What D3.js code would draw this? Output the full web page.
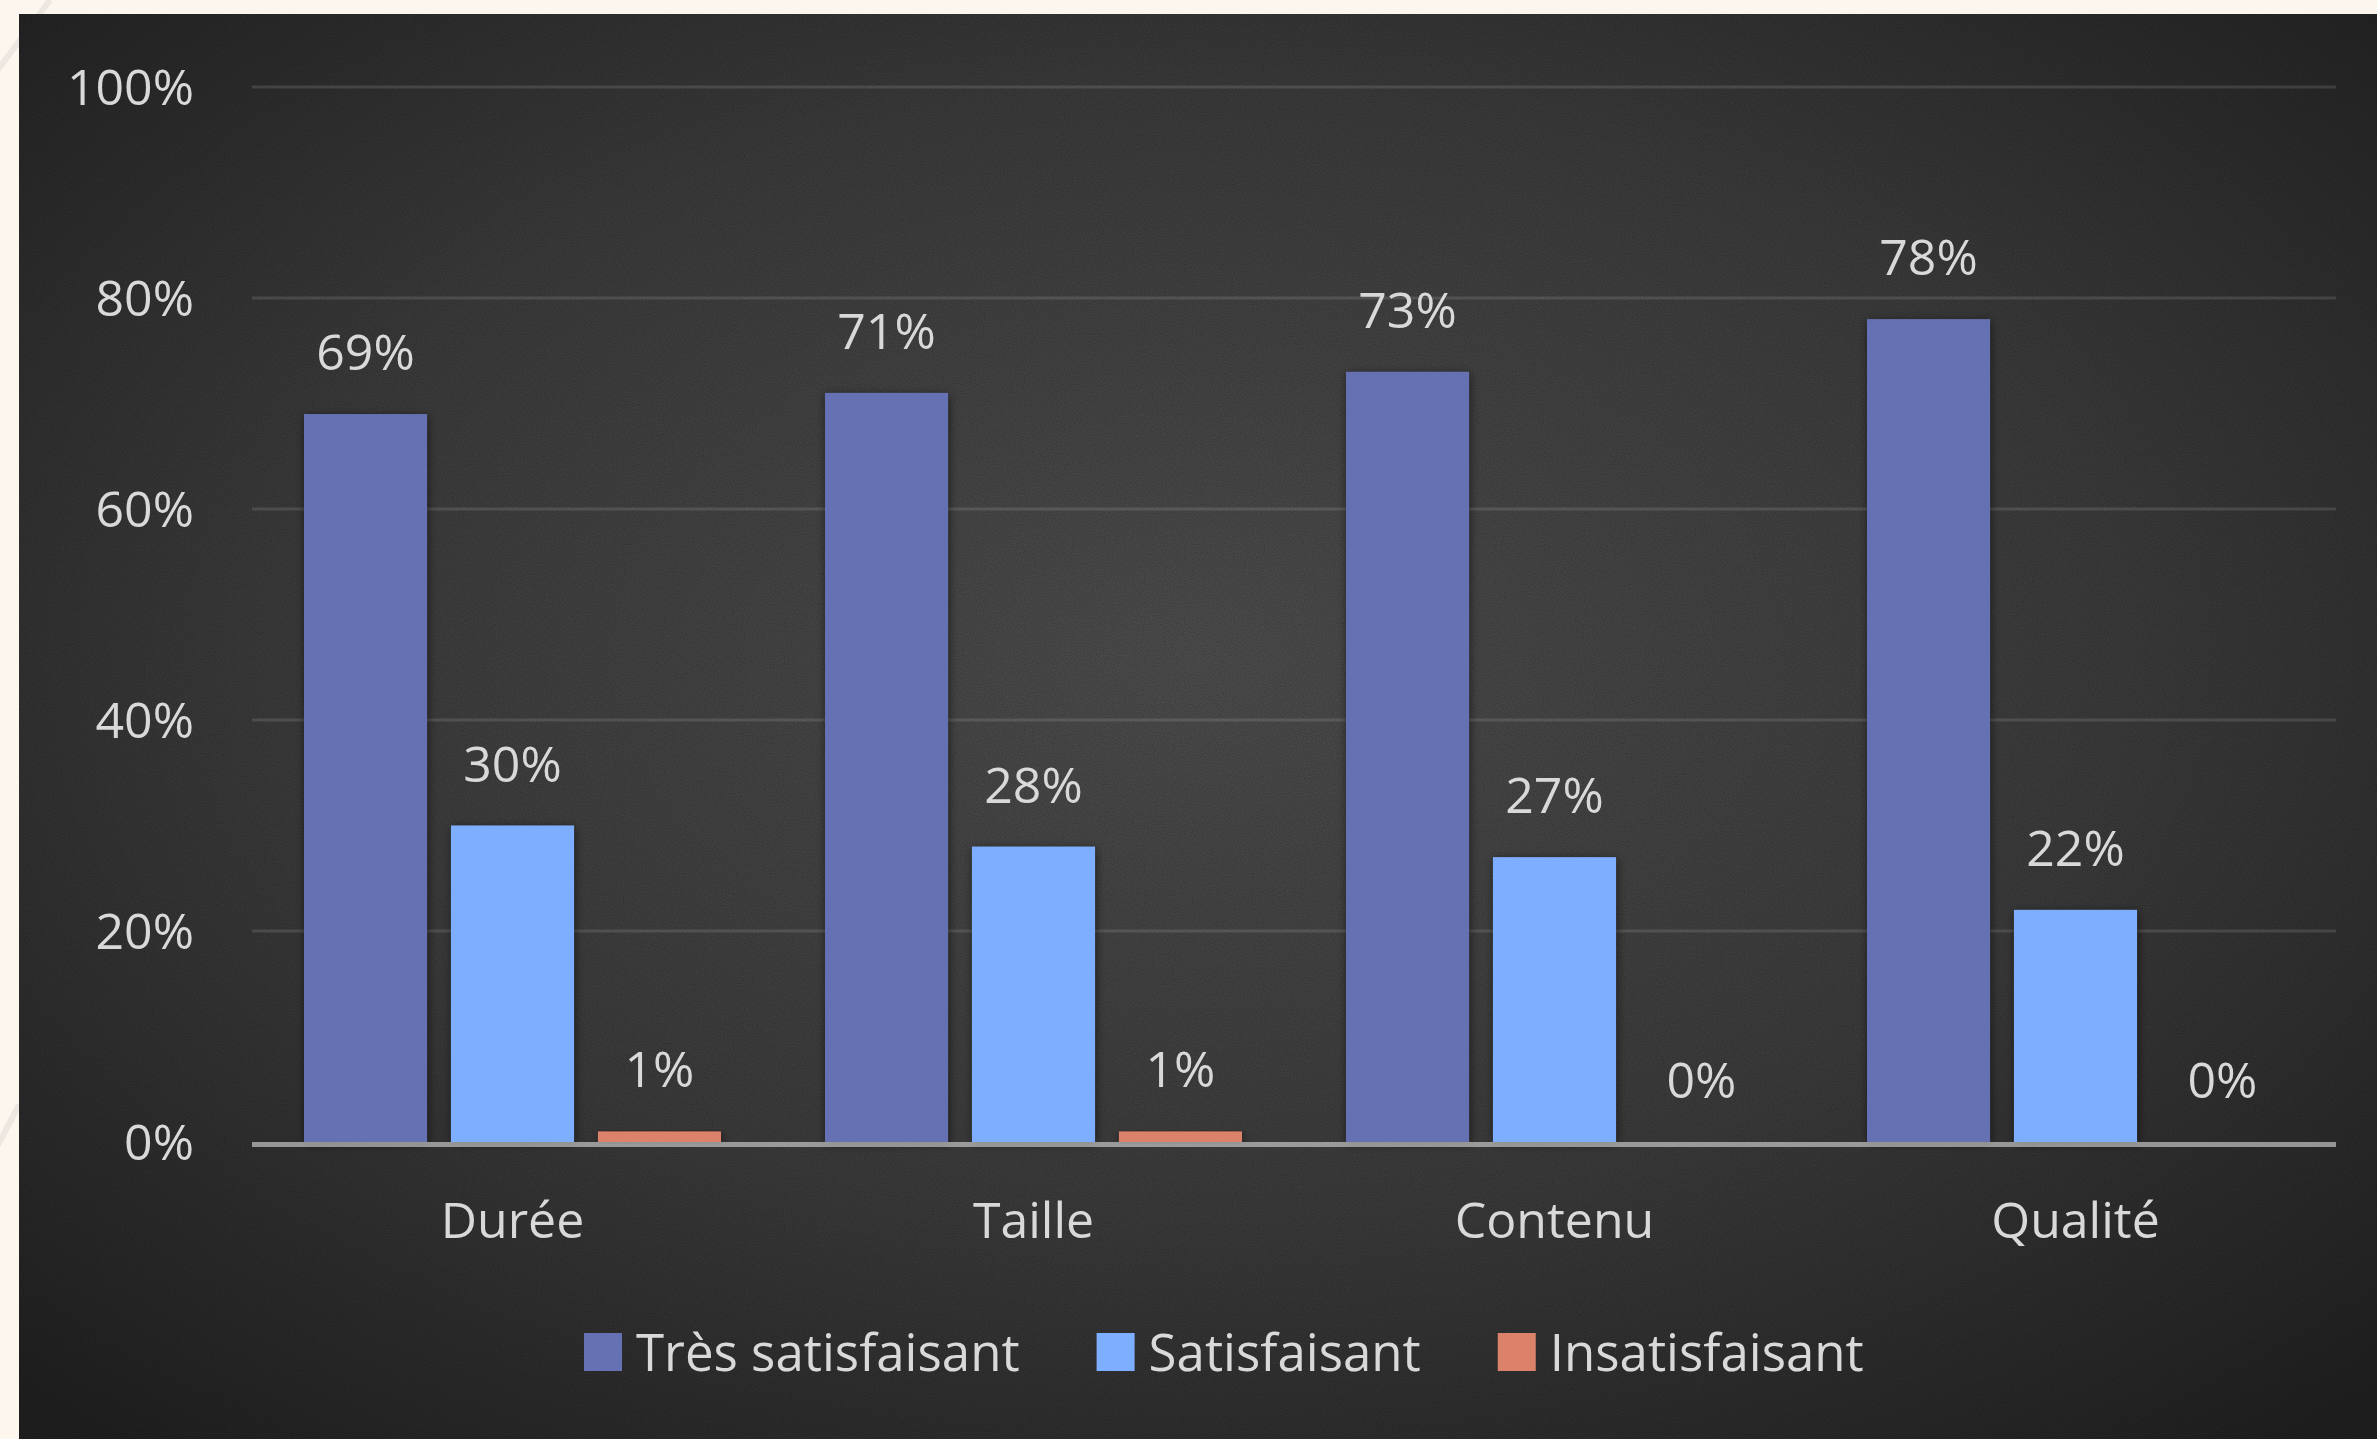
<!DOCTYPE html>
<html>
<head>
<meta charset="utf-8">
<script src="https://cdn.jsdelivr.net/npm/d3@7/dist/d3.min.js"></script>
<style>
  html, body { margin: 0; padding: 0; background: #fdf6ee; }
  svg { display: block; }
  text { font-family: "Open Sans", "Noto Sans", sans-serif; }
</style>
</head>
<body>
<svg id="chart" width="2377" height="1439"></svg>
<script>
// ---- data ----
const categories = ["Durée", "Taille", "Contenu", "Qualité"];
const seriesNames = ["Très satisfaisant", "Satisfaisant", "Insatisfaisant"];
const tresSatisfaisant = [0.69, 0.71, 0.73, 0.78];
const satisfaisant = [0.30, 0.28, 0.27, 0.22];
const insatisfaisant = [0.01, 0.01, 0.00, 0.00];
const yTicks = [0, 0.2, 0.4, 0.6, 0.8, 1.0];
const seriesColors = ["#6571b3", "#7eaeff", "#dc826a"];

const seriesValues = [tresSatisfaisant, satisfaisant, insatisfaisant];

// ---- layout ----
const W = 2377, H = 1439;
const panel = { x: 19, y: 14 };
const plot = { left: 252, right: 2336, top: 87, bottom: 1142 };
const textColor = "#d9d9d9";

const svg = d3.select("#chart");
const defs = svg.append("defs");

// background gradient
const grad = defs.append("radialGradient")
  .attr("id", "bg").attr("cx", "50%").attr("cy", "45%").attr("r", "72%");
grad.append("stop").attr("offset", "0%").attr("stop-color", "#4b4b4b");
grad.append("stop").attr("offset", "55%").attr("stop-color", "#393939");
grad.append("stop").attr("offset", "100%").attr("stop-color", "#1f1f1f");

// grain texture
const noise = defs.append("filter").attr("id", "noise")
  .attr("x", 0).attr("y", 0).attr("width", "100%").attr("height", "100%");
noise.append("feTurbulence").attr("type", "fractalNoise")
  .attr("baseFrequency", 0.9).attr("numOctaves", 1).attr("seed", 3).attr("result", "t");
noise.append("feColorMatrix").attr("type", "matrix")
  .attr("values", "0 0 0 0 0  0 0 0 0 0  0 0 0 0 0  0 0 0 -1.2 0.75");

// bar shadow
const sh = defs.append("filter").attr("id", "shadow")
  .attr("x", "-30%").attr("y", "-10%").attr("width", "160%").attr("height", "120%");
sh.append("feDropShadow").attr("dx", 1).attr("dy", 2).attr("stdDeviation", 5)
  .attr("flood-color", "#000").attr("flood-opacity", 0.55);

// cream background decorations
svg.append("rect").attr("width", W).attr("height", H).attr("fill", "#fdf6ee");
svg.append("line").attr("x1", 50).attr("y1", 0).attr("x2", -10).attr("y2", 80)
  .attr("stroke", "#ece7e1").attr("stroke-width", 6);
svg.append("line").attr("x1", 19).attr("y1", 1105).attr("x2", -10).attr("y2", 1160)
  .attr("stroke", "#ece7e1").attr("stroke-width", 6);

// dark panel
svg.append("rect").attr("x", panel.x).attr("y", panel.y)
  .attr("width", W - panel.x).attr("height", H - panel.y).attr("fill", "url(#bg)");
svg.append("rect").attr("x", panel.x).attr("y", panel.y)
  .attr("width", W - panel.x).attr("height", H - panel.y)
  .attr("filter", "url(#noise)").attr("opacity", 0.35);

// ---- scales ----
const y = d3.scaleLinear().domain([0, 1]).range([plot.bottom, plot.top]);
const x0 = d3.scaleBand().domain(categories).range([plot.left, plot.right]).padding(0);
const x1 = d3.scaleBand().domain(seriesNames).range([52, x0.bandwidth() - 52])
  .paddingInner(0.163).paddingOuter(0);
const fmt = d3.format(".0%");

// gridlines
svg.append("g").selectAll("line").data(yTicks.filter(d => d > 0)).join("line")
  .attr("x1", plot.left).attr("x2", plot.right)
  .attr("y1", d => y(d)).attr("y2", d => y(d))
  .attr("stroke", "rgba(217,217,217,0.15)").attr("stroke-width", 3);

// y axis labels
const yAxis = svg.append("g").attr("transform", `translate(${plot.left},0)`)
  .call(d3.axisLeft(y).tickValues(yTicks).tickFormat(fmt).tickSize(0).tickPadding(58));
yAxis.select(".domain").remove();
yAxis.selectAll("text").attr("fill", textColor).attr("font-size", 50)
  .attr("font-family", '"Open Sans", sans-serif').attr("dy", "0.35em");

// bars
const rows = categories.map((c, i) => ({
  cat: c,
  vals: seriesNames.map((s, j) => ({ s, j, v: seriesValues[j][i] }))
}));
const groups = svg.append("g").selectAll("g").data(rows).join("g")
  .attr("transform", d => `translate(${x0(d.cat)},0)`);
groups.selectAll("rect").data(d => d.vals).join("rect")
  .attr("x", d => x1(d.s)).attr("width", x1.bandwidth())
  .attr("y", d => y(d.v)).attr("height", d => y(0) - y(d.v))
  .attr("fill", d => seriesColors[d.j])
  .attr("filter", d => d.v > 0 ? "url(#shadow)" : null);

// value labels
groups.selectAll("text").data(d => d.vals).join("text")
  .attr("x", d => x1(d.s) + x1.bandwidth() / 2)
  .attr("y", d => y(d.v) - 44)
  .attr("text-anchor", "middle").attr("fill", textColor).attr("font-size", 50)
  .text(d => fmt(d.v));

// x axis line
svg.append("line").attr("x1", plot.left).attr("x2", plot.right)
  .attr("y1", y(0) + 2.5).attr("y2", y(0) + 2.5)
  .attr("stroke", "rgba(217,217,217,0.62)").attr("stroke-width", 5);

// x axis labels
const xAxis = svg.append("g").attr("transform", `translate(0,${plot.bottom})`)
  .call(d3.axisBottom(x0).tickSize(0).tickPadding(0));
xAxis.select(".domain").remove();
xAxis.selectAll("text").attr("fill", textColor).attr("font-size", 50)
  .attr("font-family", '"Open Sans", sans-serif')
  .attr("y", 96).attr("dy", 0);

// legend
const legend = svg.append("g");
let lx = 584;
seriesNames.forEach((s, j) => {
  legend.append("rect").attr("x", lx).attr("y", 1333).attr("width", 38).attr("height", 38)
    .attr("fill", seriesColors[j]);
  const t = legend.append("text").attr("x", lx + 52).attr("y", 1371)
    .attr("fill", textColor).attr("font-size", 51).text(s);
  lx += 52 + t.node().getComputedTextLength() + 77;
});
</script>
</body>
</html>
